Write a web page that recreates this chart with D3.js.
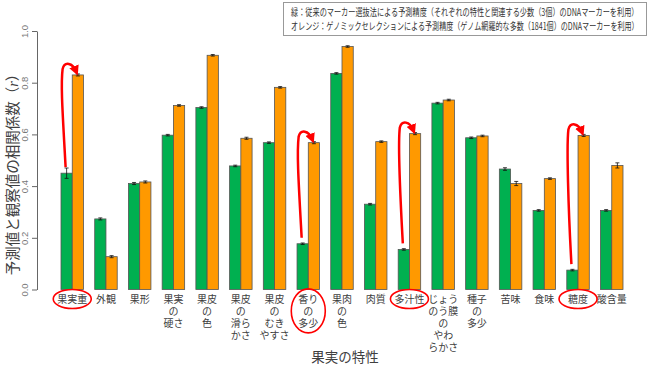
<!DOCTYPE html>
<html><head><meta charset="utf-8">
<script src="https://cdn.jsdelivr.net/npm/d3@7"></script>
<style>
html,body{margin:0;padding:0;background:#fff;}
svg{display:block;font-family:"Noto Sans CJK JP","Noto Sans",sans-serif;}
</style></head>
<body><svg id="c" width="650" height="366"></svg>
<script>
const categories = ["果実重","外観","果形","果実の硬さ","果皮の色","果皮の滑らかさ","果皮のむきやすさ","香りの多少","果肉の色","肉質","多汁性","じょうのう膜のやわらかさ","種子の多少","苦味","食味","糖度","酸含量"];
const categoryLines = [["果実重"],["外観"],["果形"],["果実","の","硬さ"],["果皮","の","色"],["果皮","の","滑ら","かさ"],["果皮","の","むき","やすさ"],["香り","の","多少"],["果肉","の","色"],["肉質"],["多汁性"],["じょう","のう膜","の","やわ","らかさ"],["種子","の","多少"],["苦味"],["食味"],["糖度"],["酸含量"]];
const markerValues = [0.45,0.273,0.41,0.597,0.704,0.478,0.568,0.177,0.836,0.33,0.155,0.721,0.587,0.466,0.306,0.075,0.306];
const gsValues     = [0.83,0.127,0.416,0.712,0.906,0.585,0.782,0.568,0.94,0.572,0.603,0.733,0.594,0.41,0.429,0.596,0.48];
const markerErr    = [0.02,0.004,0.004,0.003,0.003,0.003,0.003,0.003,0.003,0.003,0.003,0.003,0.003,0.005,0.003,0.003,0.003];
const gsErr        = [0.004,0.004,0.004,0.003,0.003,0.004,0.003,0.004,0.003,0.003,0.004,0.003,0.003,0.008,0.003,0.004,0.01];
const highlighted  = ["果実重","香りの多少","多汁性","糖度"];
const yTicks = [0,0.2,0.4,0.6,0.8,1.0];
const legendLines = ["緑：従来のマーカー選抜法による予測精度（それぞれの特性と関連する少数（3個）のDNAマーカーを利用）","オレンジ：ゲノミックセレクションによる予測精度（ゲノム網羅的な多数（1841個）のDNAマーカーを利用）"];
const xTitle = "果実の特性";
const yTitle = "予測値と観察値の相関係数（";

const GREEN="#00b050", ORANGE="#ff9900";
const svg = d3.select("#c");

const y = d3.scaleLinear().domain([0,1]).range([289.5,31]);
const x0 = d3.scaleBand().domain(categories).range([61,623]).paddingInner(0.333).paddingOuter(0);
const x1 = d3.scaleBand().domain(["m","g"]).range([0,x0.bandwidth()]);

// y axis
const yAxis = d3.axisLeft(y).tickValues(yTicks).tickFormat(d3.format(".1f")).tickSize(5).tickSizeOuter(0);
const ga = svg.append("g").attr("transform","translate(37,0)").call(yAxis);
ga.select(".domain").attr("stroke","#666");
ga.selectAll(".tick line").attr("stroke","#666");
ga.selectAll(".tick text").attr("fill","#777").attr("font-size",9.5).attr("font-family","Liberation Sans, sans-serif")
  .attr("text-anchor","middle").attr("transform","rotate(-90)").attr("x",0).attr("y",-9).attr("dy","0");

// bars
const groups = svg.append("g").selectAll("g").data(categories).join("g")
  .attr("transform",d=>`translate(${x0(d)},0)`);
function drawSeries(key, vals, errs, color){
  groups.append("rect")
    .attr("x",x1(key)).attr("width",x1.bandwidth())
    .attr("y",(d,i)=>y(vals[i])).attr("height",(d,i)=>y(0)-y(vals[i]))
    .attr("fill",color).attr("stroke","#555").attr("stroke-width",0.8);
  groups.append("path")
    .attr("d",(d,i)=>{const cx=x1(key)+x1.bandwidth()/2, a=y(vals[i]+errs[i]), b=y(vals[i]-errs[i]);
      return `M${cx-2},${a}H${cx+2}M${cx},${a}V${b}M${cx-2},${b}H${cx+2}`;})
    .attr("stroke","#111").attr("stroke-width",0.8).attr("fill","none");
}
drawSeries("m",markerValues,markerErr,GREEN);
drawSeries("g",gsValues,gsErr,ORANGE);

// x labels
const lab = svg.append("g");
categories.forEach((d,i)=>{
  categoryLines[i].forEach((ln,j)=>lab.append("text")
    .attr("x",x0(d)+x0.bandwidth()/2).attr("y",303+j*11.9)
    .attr("text-anchor","middle").attr("font-size",10).attr("fill","#404040").text(ln));
});

// titles
svg.append("text").attr("x",345).attr("y",362).attr("text-anchor","middle").attr("font-size",13.5).attr("fill","#404040").text(xTitle);
const yt = svg.append("text").attr("transform","translate(18,171) rotate(-90)").attr("text-anchor","middle").attr("font-size",14.5).attr("fill","#404040");
yt.append("tspan").text(yTitle);
yt.append("tspan").attr("font-style","italic").attr("font-family","Liberation Serif, serif").text("r");
yt.append("tspan").text("）");

// legend box
svg.append("rect").attr("x",283.5).attr("y",2.5).attr("width",363).attr("height",33).attr("fill","#fff").attr("stroke","#999").attr("stroke-width",1);
legendLines.forEach((t,i)=>{
  const g = svg.append("g");
  const tx = g.append("text").attr("x",0).attr("y",0).attr("font-size",10).attr("fill","#333").text(t);
  const w = tx.node().getComputedTextLength();
  const sx = 348/w;
  g.attr("transform",`translate(291,${15.5+i*14}) scale(${sx},1)`);
});

// annotations
const defs = svg.append("defs");
defs.append("marker").attr("id","ah").attr("viewBox","0 0 10 10").attr("refX",5).attr("refY",5)
  .attr("markerWidth",4).attr("markerHeight",4).attr("orient","auto")
  .append("path").attr("d","M0,0L10,5L0,10z").attr("fill","red");
const ann = svg.append("g");
highlighted.forEach(name=>{
  const i = categories.indexOf(name);
  const gx = x0(name)+x1("m")+x1.bandwidth()/2;
  const ox = x0(name)+x1("g")+x1.bandwidth()/2;
  const yG = y(markerValues[i]), yO = y(gsValues[i]);
  ann.append("path")
    .attr("d",`M${gx-1},${yG-6} C${gx-4},${yG-60} ${gx-6},${yO+10} ${gx-4},${yO-6} C${gx-2},${yO-14} ${gx+6},${yO-12} ${ox-2},${yO-4}`)
    .attr("fill","none").attr("stroke","red").attr("stroke-width",2.5).attr("marker-end","url(#ah)");
  const n = categoryLines[i].length;
  const cx = x0(name)+x0.bandwidth()/2;
  const cy = 299 + (n-1)*11.9/2;
  ann.append("ellipse").attr("cx",cx).attr("cy",cy).attr("rx",n>1?17:19).attr("ry",n>1?22:9.5)
    .attr("fill","none").attr("stroke","red").attr("stroke-width",1.6);
});
</script></body></html>
